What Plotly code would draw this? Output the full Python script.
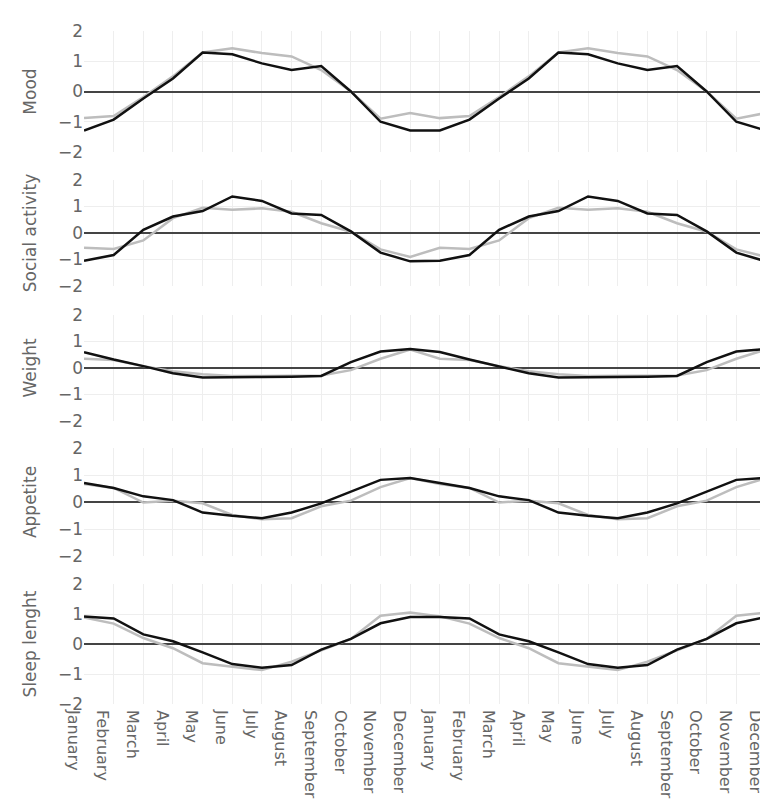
import plotly.graph_objects as go

months = ["January", "February", "March", "April", "May", "June", "July",
          "August", "September", "October", "November", "December",
          "January", "February", "March", "April", "May", "June", "July",
          "August", "September", "October", "November", "December"]
x_idx = list(range(len(months)))

panel_titles = ["Mood", "Social activity", "Weight", "Appetite", "Sleep lenght"]

mood_black = [-1.29, -0.93, -0.23, 0.43, 1.29, 1.23, 0.93, 0.71, 0.84, 0.0, -1.0, -1.29,
              -1.29, -0.93, -0.23, 0.43, 1.29, 1.23, 0.93, 0.71, 0.84, 0.0, -1.0, -1.29]
mood_grey = [-0.88, -0.81, -0.18, 0.5, 1.29, 1.43, 1.27, 1.16, 0.71, 0.0, -0.9, -0.71,
             -0.88, -0.81, -0.18, 0.5, 1.29, 1.43, 1.27, 1.16, 0.71, 0.0, -0.9, -0.71]

social_black = [-1.05, -0.83, 0.12, 0.62, 0.83, 1.38, 1.21, 0.74, 0.68, 0.06, -0.74, -1.07,
                -1.05, -0.83, 0.12, 0.62, 0.83, 1.38, 1.21, 0.74, 0.68, 0.06, -0.74, -1.07]
social_grey = [-0.56, -0.6, -0.28, 0.56, 0.95, 0.88, 0.93, 0.8, 0.37, 0.05, -0.62, -0.9,
               -0.56, -0.6, -0.28, 0.56, 0.95, 0.88, 0.93, 0.8, 0.37, 0.05, -0.62, -0.9]

weight_black = [0.6, 0.32, 0.07, -0.2, -0.36, -0.36, -0.34, -0.33, -0.3, 0.22, 0.62, 0.72,
                0.6, 0.32, 0.07, -0.2, -0.36, -0.36, -0.34, -0.33, -0.3, 0.22, 0.62, 0.72]
weight_grey = [0.35, 0.3, 0.07, -0.12, -0.24, -0.3, -0.3, -0.3, -0.28, -0.08, 0.35, 0.7,
               0.35, 0.3, 0.07, -0.12, -0.24, -0.3, -0.3, -0.3, -0.28, -0.08, 0.35, 0.7]

appetite_black = [0.7, 0.52, 0.21, 0.07, -0.39, -0.51, -0.6, -0.39, -0.05, 0.4, 0.82, 0.89,
                  0.7, 0.52, 0.21, 0.07, -0.39, -0.51, -0.6, -0.39, -0.05, 0.4, 0.82, 0.89]
appetite_grey = [0.67, 0.52, -0.02, 0.05, -0.05, -0.48, -0.64, -0.6, -0.16, 0.05, 0.55, 0.89,
                 0.67, 0.52, -0.02, 0.05, -0.05, -0.48, -0.64, -0.6, -0.16, 0.05, 0.55, 0.89]

sleep_black = [0.92, 0.85, 0.32, 0.09, -0.28, -0.67, -0.79, -0.7, -0.19, 0.17, 0.69, 0.9,
               0.9, 0.85, 0.32, 0.09, -0.28, -0.67, -0.79, -0.7, -0.19, 0.17, 0.69, 0.9]
sleep_grey = [0.88, 0.68, 0.2, -0.14, -0.64, -0.76, -0.87, -0.59, -0.21, 0.17, 0.94, 1.05,
              0.92, 0.68, 0.2, -0.14, -0.64, -0.76, -0.87, -0.59, -0.21, 0.17, 0.94, 1.05]

black_series = [mood_black, social_black, weight_black, appetite_black, sleep_black]
grey_series = [mood_grey, social_grey, weight_grey, appetite_grey, sleep_grey]

y_ticks = [-2, -1, 0, 1, 2]

# pixel layout helpers (paper fractions)
T, B = 23, 105
H = 801 - T - B
bands = [(23, 144), (172, 278), (307, 413), (440, 548), (576, 696)]
bottom_px = 696
domains = [[(bottom_px - b) / H, (bottom_px - a) / H] for a, b in bands]

font_family = "'DejaVu Sans', sans-serif"
text_color = "#666666"

fig = go.Figure()
for i in range(5):
    xa = "x" if i == 0 else f"x{i+1}"
    ya = "y" if i == 0 else f"y{i+1}"
    fig.add_trace(go.Scatter(x=x_idx, y=grey_series[i], mode="lines",
                             line=dict(color="#bdbdbd", width=2.5),
                             xaxis=xa, yaxis=ya, showlegend=False))
    fig.add_trace(go.Scatter(x=x_idx, y=black_series[i], mode="lines",
                             line=dict(color="#111111", width=2.5),
                             xaxis=xa, yaxis=ya, showlegend=False))

layout = dict(
    width=768, height=801,
    margin=dict(l=76, r=10, t=T, b=B),
    paper_bgcolor="white", plot_bgcolor="white",
    font=dict(family=font_family, color=text_color, size=17),
    showlegend=False,
)
for i in range(5):
    xkey = "xaxis" if i == 0 else f"xaxis{i+1}"
    ykey = "yaxis" if i == 0 else f"yaxis{i+1}"
    yname = "y" if i == 0 else f"y{i+1}"
    xname = "x" if i == 0 else f"x{i+1}"
    layout[xkey] = dict(
        domain=[0, 1], anchor=yname,
        range=[-0.001, len(months) - 1 + 0.001],
        tickmode="array", tickvals=x_idx, ticktext=months,
        showticklabels=(i == 4), tickangle=90,
        ticklabeloverflow="allow", ticklabelshift=-11, ticklabelstandoff=5,
        showgrid=True, gridcolor="#eeeeee", gridwidth=1,
        zeroline=False, showline=False, ticks="",
        tickfont=dict(size=16, color=text_color),
    )
    if i != 0:
        layout[xkey]["matches"] = "x"
    layout[ykey] = dict(
        domain=domains[i], anchor=xname,
        range=[-2, 2], tickvals=y_ticks,
        showgrid=True, gridcolor="#eeeeee", gridwidth=1,
        zeroline=True, zerolinecolor="#444444", zerolinewidth=1.5,
        title=dict(text=panel_titles[i], font=dict(size=17, color=text_color), standoff=16),
        tickfont=dict(size=17, color=text_color),
    )

fig.update_layout(**layout)
fig.write_html("out.html")
